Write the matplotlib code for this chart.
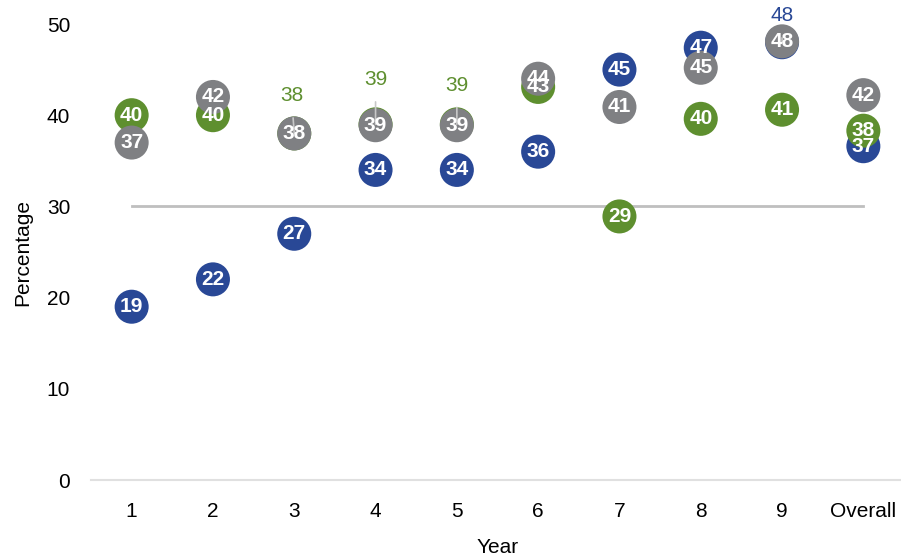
import matplotlib
matplotlib.use('Agg')
import matplotlib.pyplot as plt

plt.rcParams['font.family'] = ['Liberation Sans', 'DejaVu Sans']

# categories on the x axis
years = ['1', '2', '3', '4', '5', '6', '7', '8', '9', 'Overall']

# three series, values
blue_vals = [19, 22, 27, 34, 34, 36, 45, 47.4, 48, 36.6]
green_vals = [40, 40, 38, 39, 39, 43.1, 28.9, 39.6, 40.6, 38.3]
gray_vals = [37, 42, 38, 38.9, 38.9, 44, 40.9, 45.2, 48.1, 42.2]
threshold = 30

BLUE = '#294896'
GREEN = '#5e8f2f'
GRAY = '#7f8083'

# labels that sit above their marker: (series, index) -> offset in points
moved = {('green', 2): (-2, 27), ('green', 3): (0, 32), ('green', 4): (0, 28),
         ('blue', 8): (0, 19)}

fig = plt.figure(figsize=(9.01, 5.58), dpi=100)
ax = fig.add_axes([91 / 901, 78 / 558, (904 - 91) / 901, 456 / 558])

x = list(range(1, len(years) + 1))

ax.plot([1, 10], [threshold, threshold], color='#bfbfbf', lw=2, zorder=1)

series = [('blue', blue_vals, BLUE), ('green', green_vals, GREEN), ('gray', gray_vals, GRAY)]
for z, (name, vals, col) in enumerate(series):
    ax.scatter(x, vals, s=600, color=col, edgecolor='none', zorder=3 + z, clip_on=False)

for z, (name, vals, col) in enumerate(series):
    for i, v in enumerate(vals):
        lab = '%d' % round(v)
        if (name, i) in moved:
            dx, dy = moved[(name, i)]
            ax.annotate(lab, (x[i], v), xytext=(dx, dy), textcoords='offset points',
                        ha='center', va='center', color=col, fontsize=15,
                        arrowprops=dict(arrowstyle='-', color='#c8c8c8', lw=1.2,
                                        shrinkA=7, shrinkB=0),
                        zorder=10, annotation_clip=False)
        else:
            ax.text(x[i], v, lab, ha='center', va='center', color='white',
                    fontsize=15, fontweight='bold', zorder=10)

ax.set_xlim(0.5, 10.5)
ax.set_ylim(0, 50)
ax.set_xticks(x)
ax.set_xticklabels(years)
ax.set_yticks([0, 10, 20, 30, 40, 50])
ax.tick_params(axis='x', length=0, pad=16, labelsize=15)
ax.tick_params(axis='y', length=0, pad=15, labelsize=15)

for s in ['top', 'right', 'left']:
    ax.spines[s].set_visible(False)
ax.spines['bottom'].set_color('#e0e0e0')
ax.spines['bottom'].set_linewidth(1.5)

ax.set_xlabel('Year', fontsize=15, labelpad=12)
fig.text(23 / 901, (558 - 252) / 558, 'Percentage', fontsize=15, rotation=90,
         ha='center', va='center')

fig.savefig('out.png', dpi=100)
plt.close(fig)
